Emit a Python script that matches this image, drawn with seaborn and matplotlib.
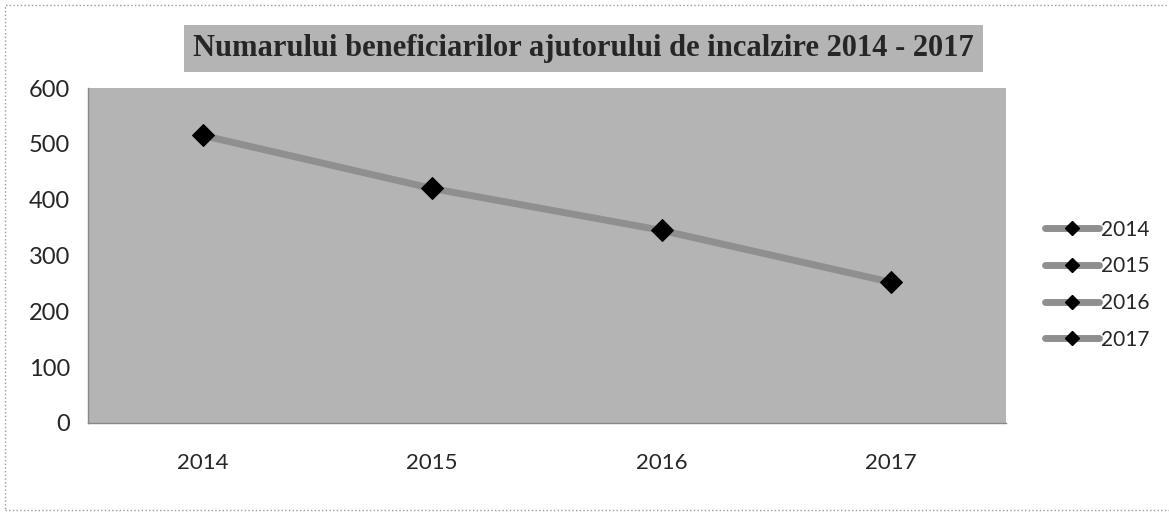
import matplotlib
matplotlib.use("Agg")
import matplotlib.pyplot as plt
import seaborn as sns
import pandas as pd
from matplotlib.lines import Line2D
from matplotlib.patches import Rectangle

# data
years = ["2014", "2015", "2016", "2017"]
beneficiari = [515, 420, 345, 252]
legend_labels = ["2014", "2015", "2016", "2017"]
y_ticks = [0, 100, 200, 300, 400, 500, 600]

title = "Numarului beneficiarilor ajutorului de incalzire 2014 - 2017"

sns.set_style("white")
plt.rcParams['font.family'] = ['Lato', 'DejaVu Sans']

df = pd.DataFrame({"an": years, "beneficiari": beneficiari})

fig = plt.figure(figsize=(11.69, 5.24), dpi=100)
ax = fig.add_axes([0.0753, 0.193, 0.785, 0.639])
ax.set_facecolor("#b4b4b4")

line_col = "#8f8f8f"
sns.lineplot(data=df, x="an", y="beneficiari", ax=ax, color=line_col, linewidth=5,
             marker="D", markersize=11, markerfacecolor="black", markeredgecolor="black",
             sort=False)

ax.set_xlim(-0.5, len(years) - 0.5)
ax.set_ylim(0, 600)
ax.set_yticks(y_ticks)
ax.set_xlabel("")
ax.set_ylabel("")
ax.set_xticks(range(len(years)))
ax.set_xticklabels(years)
ax.set_xticks([i + 0.5 for i in range(len(years) - 1)], minor=True)
ax.tick_params(axis="x", which="major", length=0, pad=22, labelsize=16)
ax.tick_params(axis="x", which="minor", length=5, color="#777777", direction="in")
ax.tick_params(axis="y", length=5, color="#777777", labelsize=17, pad=8)

for s in ["top", "right"]:
    ax.spines[s].set_visible(False)
for s in ["left", "bottom"]:
    ax.spines[s].set_color("#888888")
    ax.spines[s].set_linewidth(1)

# legend: same symbol for every year, as in the original
handles = [Line2D([0], [0], color=line_col, linewidth=5, marker="D", markersize=7,
                  markerfacecolor="black", markeredgecolor="black") for _ in legend_labels]
ax.legend(handles, legend_labels, loc="center left", bbox_to_anchor=(1.022, 0.413),
          frameon=False, fontsize=15, handlelength=2.6, handletextpad=0.1,
          labelspacing=0.8)

# title in a grey box
fig.text(0.499, 0.908, title, ha="center", va="center", fontsize=22,
         fontweight="bold", family=["Liberation Serif", "DejaVu Serif"],
         bbox=dict(boxstyle="square,pad=0.3", facecolor="#b4b4b4", edgecolor="none"))

# dotted outer border of the chart area
fig.patches.append(Rectangle((0.004, 0.027), 1.2, 0.963, transform=fig.transFigure,
                             fill=False, edgecolor="#999999", linewidth=1,
                             linestyle=":"))

fig.savefig("out.png", dpi=100)
